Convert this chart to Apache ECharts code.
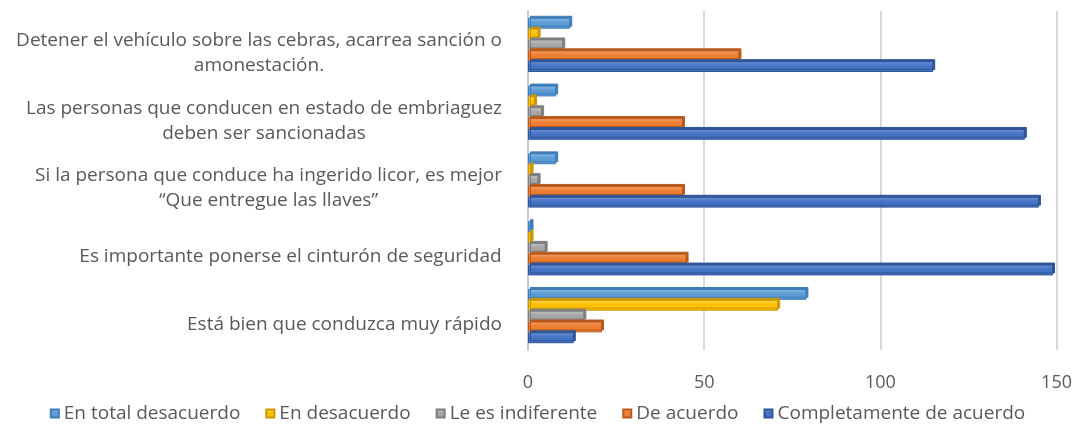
<!DOCTYPE html>
<html>
<head>
<meta charset="utf-8">
<script src="https://cdn.jsdelivr.net/npm/echarts@6/dist/echarts.min.js"></script>
<style>
  html, body { margin: 0; padding: 0; background: #fff; }
  #chart { width: 1075px; height: 429px; }
</style>
</head>
<body>
<div id="chart"></div>
<script>
// categories, top to bottom (line breaks as in the original)
const categories = [
  'Detener el vehículo sobre las cebras, acarrea sanción o\namonestación.',
  'Las personas que conducen en estado de embriaguez\ndeben ser sancionadas',
  'Si la persona que conduce ha ingerido licor, es mejor\n“Que entregue las llaves”',
  'Es importante ponerse el cinturón de seguridad',
  'Está bien que conduzca muy rápido'
]
const seriesNames = ['En total desacuerdo', 'En desacuerdo', 'Le es indiferente', 'De acuerdo', 'Completamente de acuerdo']
const totalDesacuerdo = [12, 8, 8, 1, 79]
const desacuerdo = [3, 2, 1, 1, 71]
const indiferente = [10, 4, 3, 5, 16]
const deAcuerdo = [60, 44, 44, 45, 21]
const completamente = [115, 141, 145, 149, 13]
const xTicks = [0, 50, 100, 150]

const values = [totalDesacuerdo, desacuerdo, indiferente, deAcuerdo, completamente]
// light / base / dark shade per series
const shades = [
  ['#8DBBE6', '#5B9BD5', '#3F7DB8'],
  ['#FFD54D', '#FFC000', '#C99700'],
  ['#C4C4C4', '#A5A5A5', '#7F7F7F'],
  ['#F4A06A', '#ED7D31', '#B85A1C'],
  ['#6F93D6', '#4472C4', '#2F5597']
]

const font = '"Open Sans", "Liberation Sans", sans-serif'
const labelSize = 19

// centre the lines of each label inside a block as wide as its longest line
const ctx = document.createElement('canvas').getContext('2d')
ctx.font = labelSize + 'px ' + font
const rich = { p: { fontSize: 1, lineHeight: 16 } }
categories.forEach((c, i) => {
  const w = Math.max(...c.split('\n').map(l => ctx.measureText(l).width))
  rich['c' + i] = {
    width: Math.ceil(w) + 2, align: 'center', color: '#595959',
    fontSize: labelSize, fontFamily: font, lineHeight: 25
  }
})

const chart = echarts.init(document.getElementById('chart'))

chart.setOption({
  animation: false,
  grid: { left: 528, right: 18, top: 11, bottom: 79 },
  legend: {
    bottom: 1,
    left: 'center',
    itemWidth: 8,
    itemHeight: 8,
    itemGap: 25,
    icon: 'rect',
    textStyle: { color: '#595959', fontSize: 19, fontFamily: font },
    data: seriesNames
  },
  xAxis: {
    type: 'value',
    min: 0,
    max: 150,
    interval: 50,
    axisLine: { show: false },
    axisTick: { show: false },
    splitLine: { lineStyle: { color: '#D9D9D9', width: 2 } },
    axisLabel: {
      color: '#595959', fontSize: 18, fontFamily: font, margin: 24,
      formatter: v => xTicks.indexOf(v) >= 0 ? String(v) : ''
    }
  },
  yAxis: {
    type: 'category',
    inverse: true,
    data: categories,
    axisTick: { show: false },
    axisLine: { show: true, lineStyle: { color: '#C8C8C8', width: 2 } },
    axisLabel: {
      margin: 25,
      rich: rich,
      formatter: (v, i) => '{p| }\n' + v.split('\n').map(l => '{c' + i + '|' + l + '}').join('\n')
    }
  },
  series: seriesNames.map((name, i) => ({
    name: name,
    type: 'bar',
    data: values[i],
    barGap: '0%',
    barCategoryGap: '20%',
    itemStyle: {
      color: new echarts.graphic.LinearGradient(0, 0, 0, 1, [
        { offset: 0, color: shades[i][0] },
        { offset: 0.45, color: shades[i][1] },
        { offset: 1, color: shades[i][1] }
      ]),
      borderColor: shades[i][2],
      borderWidth: 1,
      shadowColor: shades[i][2],
      shadowBlur: 0,
      shadowOffsetX: 2,
      shadowOffsetY: -2
    }
  }))
})
</script>
</body>
</html>
